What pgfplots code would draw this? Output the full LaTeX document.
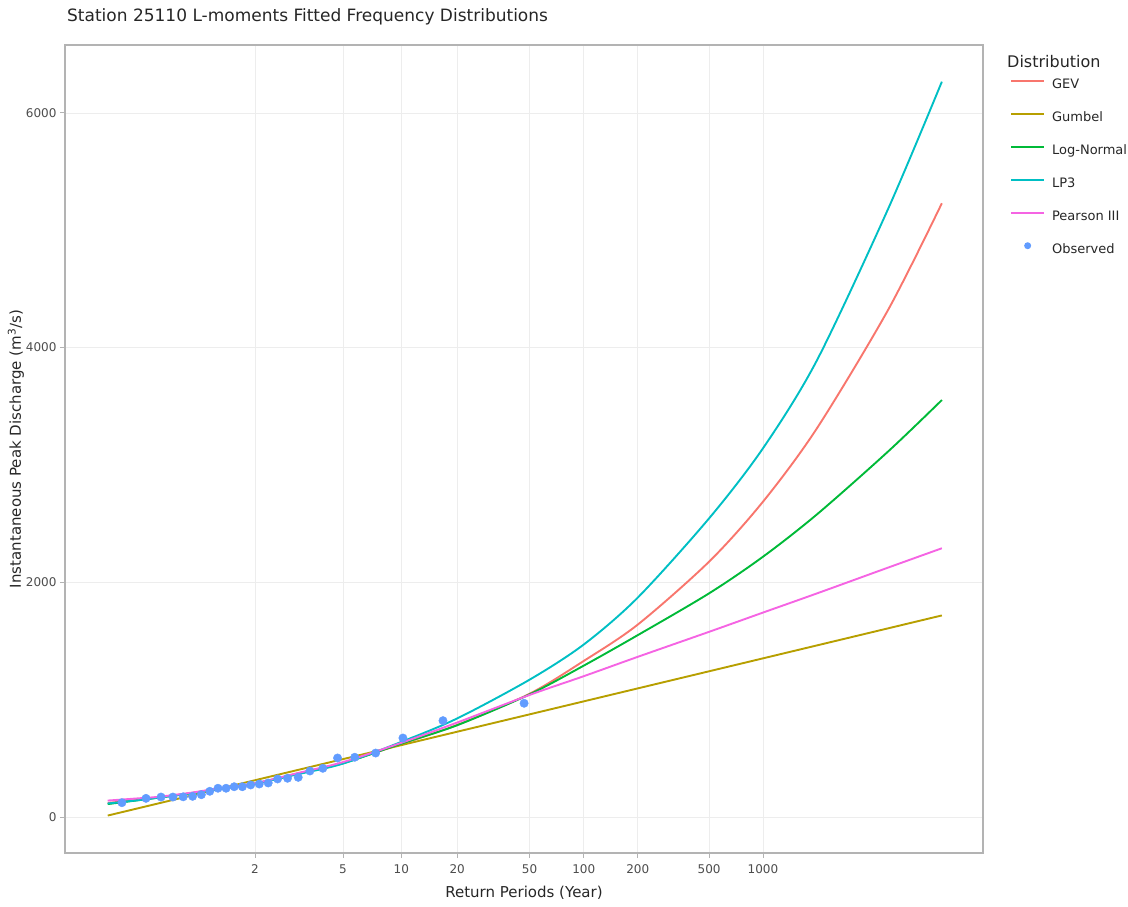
\documentclass[border=0pt]{standalone}
\usepackage{pgfplots}
\usepackage{pgfplotstable}
\pgfplotsset{compat=1.18}
\usepackage{fontspec}
\setmainfont{DejaVu Sans}
\definecolor{cGEV}{HTML}{F8766D}
\definecolor{cGUM}{HTML}{B79F00}
\definecolor{cLN}{HTML}{00BA38}
\definecolor{cLP}{HTML}{00BFC4}
\definecolor{cPE}{HTML}{F564E3}
\definecolor{cOBS}{HTML}{619CFF}
\definecolor{frame}{HTML}{B3B3B3}
\definecolor{gridc}{HTML}{EDEDED}
\definecolor{ticktxt}{HTML}{4D4D4D}

\pgfplotsset{
  ll/.style={legend image code/.code={\draw[line width=1.9pt, draw=#1] (0pt,4.5pt) -- (33pt,4.5pt);}},
  obslegend/.style={legend image code/.code={\path[draw=none, fill=none] (0pt,4.5pt) -- (33pt,4.5pt); \fill[cOBS, draw=none] (16.5pt,4.5pt) circle[radius=3.5pt];}},
}

% x = Gumbel reduced variate -ln(-ln(1-1/T))
\pgfplotstableread{
x        GEV   LN    LP    PE    GUM
-1.5290  120   110   115   140   12.2
-1.1133  148   145   145   160   78.2
-0.8746  168   165   165   172   116.1
-0.4759  202   200   200   205   179.4
-0.0940  242   240   240   245   240.1
0.3665   285   285   283   288   313.2
0.9027   368   368   362   372   398.3
1.4999   460   458   455   468   493.2
2.2504   622   625   640   632   612.4
2.9702   785   782   840   805   726.7
3.9019   1050  1045  1170  1040  874.6
4.6001   1330  1290  1470  1200  985.5
5.2958   1640  1550  1870  1365  1096.0
6.2136   2176  1906  2545  1578  1241.7
6.9073   2687  2218  3142  1742  1351.9
7.6006   3311  2578  3890  1905  1462.0
8.5170   4320  3114  5180  2125  1607.5
9.2103   5230  3553  6266  2290  1717.6
}\curves

\pgfplotstableread{
x        Q
-1.3462  122
-1.0361  159
-0.8427  170
-0.6896  170
-0.5570  172
-0.4364  176
-0.3233  190
-0.2150  219
-0.1094  245
-0.0051  245
0.0992   258
0.2043   258
0.3117   273
0.4222   281
0.5372   290
0.6578   324
0.7859   330
0.9236   338
1.0740   392
1.2406   415
1.4298   503
1.6510   509
1.9206   545
2.2716   673
2.7874   821
3.8317   969
}\observed

\begin{document}
\begin{tikzpicture}[x=1pt,y=1pt]
\path[use as bounding box] (0pt,0pt) rectangle (1128pt,906pt);
\node[anchor=base west, font=\fontsize{17}{20}\selectfont, text=black!85, inner sep=0pt] at (67pt,884pt) {Station 25110 L-moments Fitted Frequency Distributions};
\node[anchor=base west, font=\fontsize{16}{19}\selectfont, text=black!85, inner sep=0pt] at (1007pt,838pt) {Distribution};
\begin{axis}[
  at={(65pt,53pt)}, anchor=south west,
  scale only axis, width=918pt, height=808pt,
  xmin=-2.079, xmax=9.740, ymin=-306.8, ymax=6578.6,
  axis line style={draw=frame, line width=1.6pt},
  grid=major, grid style={draw=gridc, line width=0.7pt},
  tick align=outside, major tick length=5pt,
  tick style={draw=frame, line width=0.8pt},
  xtick pos=bottom, ytick pos=left,
  xtick={0.3665,1.4999,2.2504,2.9702,3.9019,4.6001,5.2958,6.2136,6.9073},
  xticklabels={2,5,10,20,50,100,200,500,1000},
  ytick={0,2000,4000,6000},
  yticklabel style={/pgf/number format/1000 sep={}},
  xticklabel style={yshift=-3pt},
  /pgf/number format/assume math mode=true,
  tick label style={font=\fontsize{12}{14}\selectfont, text=ticktxt},
  xlabel={Return Periods (Year)},
  ylabel={Instantaneous Peak Discharge (m\textsuperscript{3}/s)},
  label style={font=\fontsize{15}{18}\selectfont, text=black!85},
  xlabel style={at={(axis description cs:0.5,-0.0495)}, anchor=center},
  ylabel style={at={(axis description cs:-0.0534,0.5)}, anchor=center},
  legend style={at={(1.0294,0.961)}, anchor=north west, draw=none, fill=none,
    font=\fontsize{13}{15}\selectfont, text=black!85, inner sep=0pt, row sep=16pt, column sep=5pt,
    nodes={inner sep=2pt, text height=10pt, text depth=3pt}},
  legend cell align=left,
  every axis plot/.append style={line width=1.9pt},
]
\addplot[color=cGEV, smooth, ll=cGEV] table[x=x, y=GEV] {\curves};
\addlegendentry{GEV}
\addplot[color=cGUM, ll=cGUM] table[x=x, y=GUM] {\curves};
\addlegendentry{Gumbel}
\addplot[color=cLN, smooth, ll=cLN] table[x=x, y=LN] {\curves};
\addlegendentry{Log-Normal}
\addplot[color=cLP, smooth, ll=cLP] table[x=x, y=LP] {\curves};
\addlegendentry{LP3}
\addplot[color=cPE, smooth, ll=cPE] table[x=x, y=PE] {\curves};
\addlegendentry{Pearson III}
\addplot[color=cOBS, only marks, mark=*, mark size=4.2pt,
  mark options={solid, draw=cOBS, fill=cOBS, line width=0.4pt}, obslegend]
  table[x=x, y=Q] {\observed};
\addlegendentry{Observed}
\end{axis}
\end{tikzpicture}
\end{document}
